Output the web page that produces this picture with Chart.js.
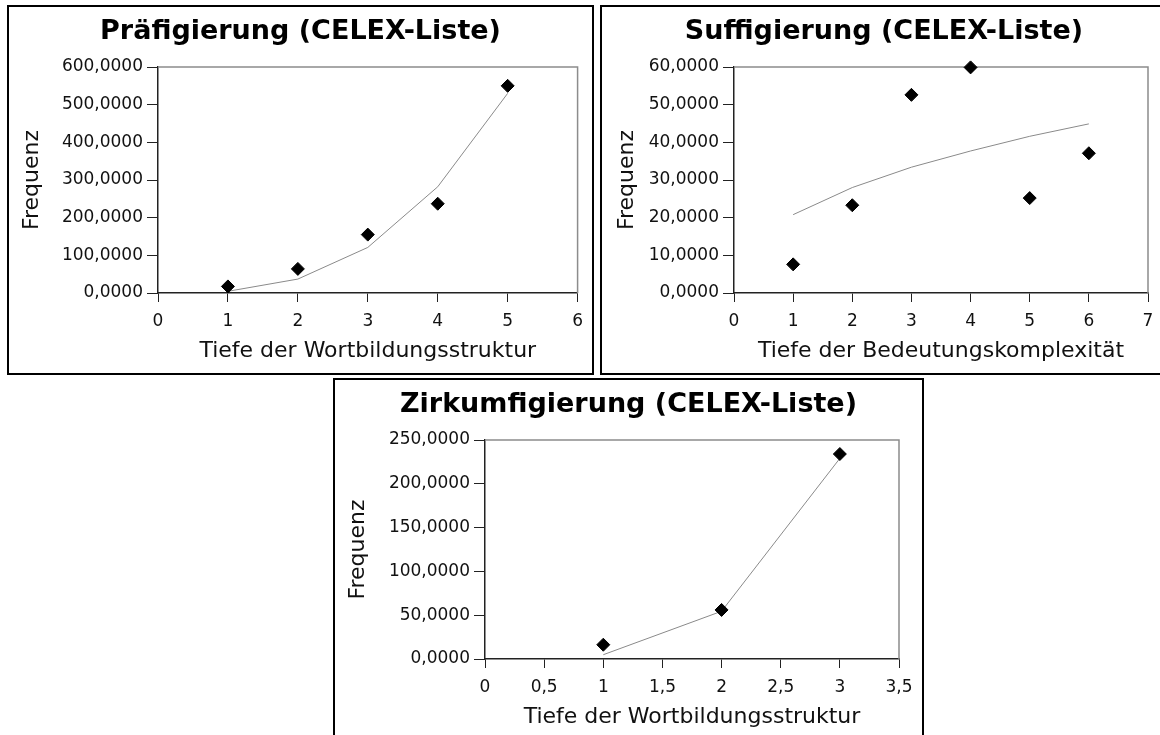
<!DOCTYPE html>
<html><head><meta charset="utf-8">
<script src="https://cdn.jsdelivr.net/npm/chart.js@4.4.1/dist/chart.umd.min.js"></script>
<style>
html,body{margin:0;padding:0;width:1160px;height:735px;overflow:hidden;background:#fff;}
.box{position:absolute;border:2px solid #000;box-sizing:border-box;overflow:hidden;background:#fff;}
.box canvas{position:absolute;left:0;top:0;}
</style></head><body>
<div class="box" style="left:7px;top:5px;width:587px;height:370px"><canvas id="c1" width="583" height="366"></canvas></div>
<div class="box" style="left:600px;top:5px;width:568px;height:370px"><canvas id="c2" width="564" height="366"></canvas></div>
<div class="box" style="left:333px;top:378px;width:591px;height:370px"><canvas id="c3" width="587" height="366"></canvas></div>
<script>
// ---- data ----
const prefX = [1, 2, 3, 4, 5];
const prefY = [17.5, 64, 155, 237, 550];
const prefTrend = [4.5, 37, 121, 282, 530];
const prefXTicks = ['0', '1', '2', '3', '4', '5', '6'];
const prefYTicks = ['0,0000', '100,0000', '200,0000', '300,0000', '400,0000', '500,0000', '600,0000'];

const suffX = [1, 2, 3, 4, 5, 6];
const suffY = [7.6, 23.3, 52.6, 59.9, 25.2, 37.1];
const suffTrend = [20.8, 28.0, 33.4, 37.7, 41.6, 44.9];
const suffXTicks = ['0', '1', '2', '3', '4', '5', '6', '7'];
const suffYTicks = ['0,0000', '10,0000', '20,0000', '30,0000', '40,0000', '50,0000', '60,0000'];

const zirkX = [1, 2, 3];
const zirkY = [16.3, 56, 234];
const zirkTrend = [4.9, 54.5, 229];
const zirkXTicks = ['0', '0,5', '1', '1,5', '2', '2,5', '3', '3,5'];
const zirkYTicks = ['0,0000', '50,0000', '100,0000', '150,0000', '200,0000', '250,0000'];

const FONT = "'DejaVu Sans', sans-serif";

const framePlugin = {
  id: 'frame',
  beforeDatasetsDraw(chart) {
    const {ctx, chartArea: a} = chart;
    ctx.save();
    ctx.strokeStyle = '#8c8c8c';
    ctx.lineWidth = 1.5;
    ctx.beginPath();
    ctx.moveTo(a.left, a.top);
    ctx.lineTo(a.right, a.top);
    ctx.lineTo(a.right, a.bottom);
    ctx.stroke();
    ctx.restore();
  }
};

function buildChart(id, c) {
  return new Chart(document.getElementById(id), {
    type: 'scatter',
    data: {
      datasets: [
        {
          label: 'Frequenz',
          data: c.xs.map((x, i) => ({x: x, y: c.ys[i]})),
          pointStyle: 'rectRot', pointRadius: 6.5, pointHoverRadius: 6.5,
          backgroundColor: '#000', borderColor: '#000', borderWidth: 1,
          showLine: false, order: 0, clip: false
        },
        {
          label: 'Trend',
          data: c.xs.map((x, i) => ({x: x, y: c.trend[i]})),
          showLine: true, pointRadius: 0, pointHoverRadius: 0,
          borderColor: '#8a8a8a', borderWidth: 1, fill: false, order: 1, clip: false
        }
      ]
    },
    options: {
      responsive: false, animation: false, devicePixelRatio: 1,
      layout: {padding: {left: 0, top: 0, right: 0, bottom: c.padBottom}},
      plugins: {
        legend: {display: false},
        tooltip: {enabled: false},
        title: {
          display: true, text: c.title, color: '#000',
          font: {family: FONT, size: 27, weight: 'bold'},
          padding: {top: 8.8, bottom: 18.8}
        }
      },
      scales: {
        x: {
          type: 'linear', position: 'bottom', min: c.xMin, max: c.xMax,
          afterFit: s => { s.height = 80; },
          ticks: {
            stepSize: c.xStep, autoSkip: false, maxRotation: 0, padding: 9,
            font: {family: FONT, size: 17}, color: '#111',
            callback: (v, i) => c.xLabels[i]
          },
          grid: {drawOnChartArea: false, drawTicks: true, tickLength: 9, color: '#222', lineWidth: 1},
          border: {display: true, color: '#222', width: 1.5},
          title: {
            display: true, text: c.xTitle, color: '#111',
            font: {family: FONT, size: 22}, padding: {top: 0, bottom: 8.8}
          }
        },
        y: {
          type: 'linear', position: 'left', min: 0, max: c.yMax,
          afterFit: s => { s.width = c.plotLeft; },
          ticks: {
            stepSize: c.yStep, autoSkip: false, padding: 4,
            font: {family: FONT, size: 17}, color: '#111',
            callback: (v, i) => c.yLabels[i]
          },
          grid: {drawOnChartArea: false, drawTicks: true, tickLength: 11, color: '#222', lineWidth: 1},
          border: {display: true, color: '#222', width: 1.5},
          title: {
            display: true, text: 'Frequenz', color: '#111',
            font: {family: FONT, size: 22}, padding: {top: c.yTitlePad, bottom: 0}
          }
        },
        spacer: {
          type: 'linear', position: 'right', display: true,
          grid: {display: false, drawTicks: false}, border: {display: false},
          ticks: {display: false},
          afterFit: s => { s.width = c.padRight; }
        }
      }
    },
    plugins: [framePlugin]
  });
}

buildChart('c1', {
  title: 'Präfigierung (CELEX-Liste)', xTitle: 'Tiefe der Wortbildungsstruktur',
  xs: prefX, ys: prefY, trend: prefTrend, xLabels: prefXTicks, yLabels: prefYTicks,
  xMin: 0, xMax: 6, xStep: 1, yMax: 600, yStep: 100,
  plotLeft: 149, padRight: 14, padBottom: 0, yTitlePad: 9.8
});
buildChart('c2', {
  title: 'Suffigierung (CELEX-Liste)', xTitle: 'Tiefe der Bedeutungskomplexität',
  xs: suffX, ys: suffY, trend: suffTrend, xLabels: suffXTicks, yLabels: suffYTicks,
  xMin: 0, xMax: 7, xStep: 1, yMax: 60, yStep: 10,
  plotLeft: 132, padRight: 18, padBottom: 0, yTitlePad: 11.8
});
buildChart('c3', {
  title: 'Zirkumfigierung (CELEX-Liste)', xTitle: 'Tiefe der Wortbildungsstruktur',
  xs: zirkX, ys: zirkY, trend: zirkTrend, xLabels: zirkXTicks, yLabels: zirkYTicks,
  xMin: 0, xMax: 3.5, xStep: 0.5, yMax: 250, yStep: 50,
  plotLeft: 150, padRight: 23, padBottom: 7, yTitlePad: 9.8
});
</script>
</body></html>
